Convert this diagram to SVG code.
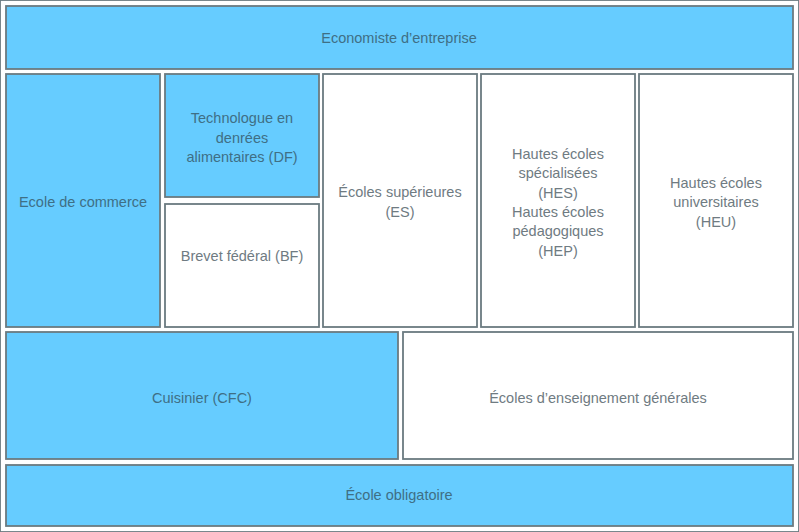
<svg xmlns="http://www.w3.org/2000/svg" width="799" height="532" viewBox="0 0 799 532">
<style>
rect{stroke:#6b7a80;stroke-width:1.8}
.b{fill:#66ccff}.w{fill:#ffffff}
text{font-family:"Liberation Sans",Arial,sans-serif;font-size:14.5px;text-anchor:middle}
.tb{fill:#3f6f85}.tw{fill:#6f7b82}
</style>
<rect x="0" y="0" width="799" height="532" fill="#fff" stroke="none"/>
<g id="n1"><rect class="b" x="6" y="6" width="787" height="63"/><text class="tb" x="399" y="43">Economiste d’entreprise</text></g>
<g id="n2"><rect class="b" x="6" y="74" width="154" height="253"/><text class="tb" x="83" y="207">Ecole de commerce</text></g>
<g id="n3"><rect class="b" x="165" y="74" width="154" height="123"/><text class="tb" x="242" y="123">Technologue en</text><text class="tb" x="242" y="143">denrées</text><text class="tb" x="242" y="162">alimentaires (DF)</text></g>
<g id="n4"><rect class="w" x="165" y="204" width="154" height="123"/><text class="tw" x="242" y="261">Brevet fédéral (BF)</text></g>
<g id="n5"><rect class="w" x="323" y="74" width="154" height="253"/><text class="tw" x="400" y="197">Écoles supérieures</text><text class="tw" x="400" y="217">(ES)</text></g>
<g id="n6"><rect class="w" x="481" y="74" width="154" height="253"/><text class="tw" x="558" y="159">Hautes écoles</text><text class="tw" x="558" y="178">spécialisées</text><text class="tw" x="558" y="198">(HES)</text><text class="tw" x="558" y="217">Hautes écoles</text><text class="tw" x="558" y="236">pédagogiques</text><text class="tw" x="558" y="256">(HEP)</text></g>
<g id="n7"><rect class="w" x="639" y="74" width="154" height="253"/><text class="tw" x="716" y="188">Hautes écoles</text><text class="tw" x="716" y="207">universitaires</text><text class="tw" x="716" y="227">(HEU)</text></g>
<g id="n8"><rect class="b" x="6" y="332" width="392" height="127"/><text class="tb" x="202" y="403">Cuisinier (CFC)</text></g>
<g id="n9"><rect class="w" x="403" y="332" width="390" height="127"/><text class="tw" x="598" y="403">Écoles d’enseignement générales</text></g>
<g id="n10"><rect class="b" x="6" y="465" width="787" height="61"/><text class="tb" x="399" y="500">École obligatoire</text></g>
<g id="connectors"/>
</svg>
